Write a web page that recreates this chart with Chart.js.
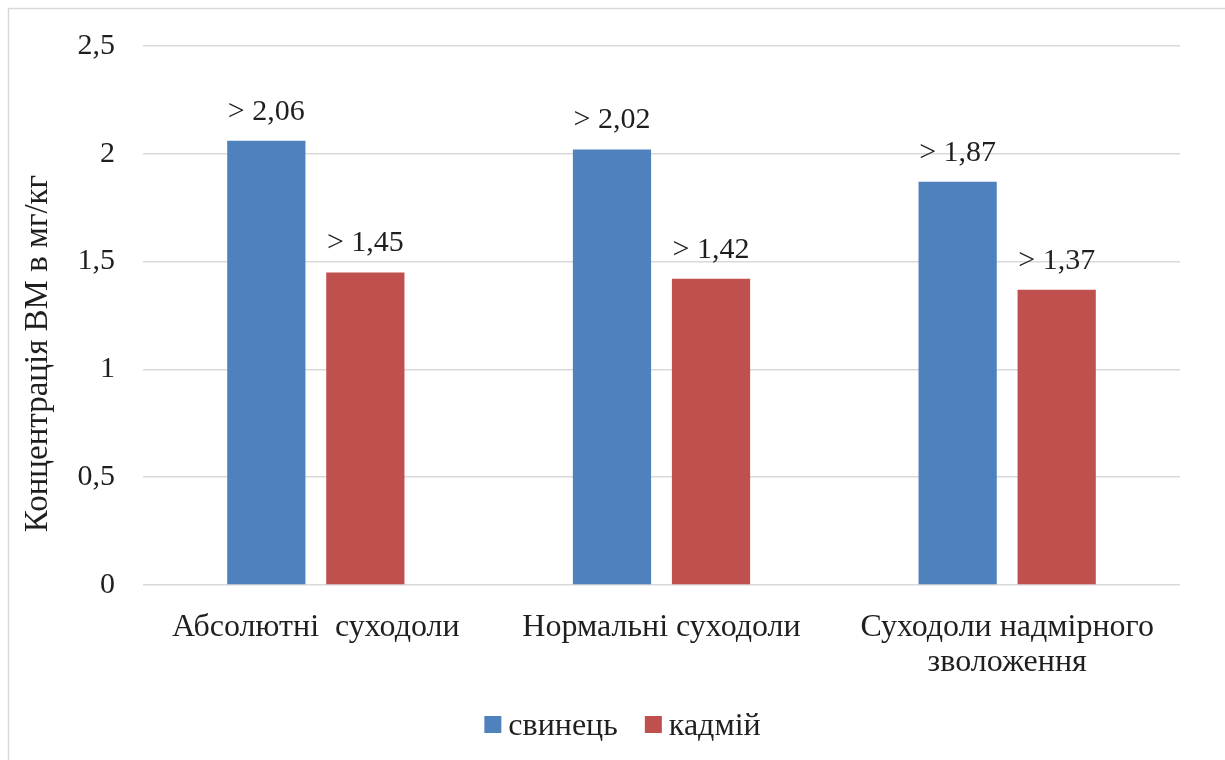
<!DOCTYPE html>
<html lang="uk">
<head>
<meta charset="utf-8">
<title>Концентрація ВМ</title>
<script src="https://cdn.jsdelivr.net/npm/chart.js@4"></script>
<style>
  html, body { margin: 0; padding: 0; background: #fff; }
  #wrap { position: absolute; left: 0; top: 0; width: 1225px; height: 760px; }
</style>
</head>
<body>
<div id="wrap"><canvas id="chart-vm" width="1225" height="760"></canvas></div>
<script>
const categories = [
  'Абсолютні  суходоли',
  'Нормальні суходоли',
  ['Суходоли надмірного', 'зволоження'],
];
const svynets = [2.06, 2.02, 1.87];
const kadmii = [1.45, 1.42, 1.37];
const yTicks = [0, 0.5, 1, 1.5, 2, 2.5];
const yTitle = 'Концентрація ВМ в мг/кг';

const serif = '"Liberation Serif", "Times New Roman", serif';
const textColor = '#1f1f1f';
const gridColor = '#d9d9d9';

const comma = v => String(v).replace('.', ',');

// рамка навколо діаграми
const frame = {
  id: 'frame',
  beforeDraw(chart) {
    const ctx = chart.ctx;
    ctx.save();
    ctx.strokeStyle = gridColor;
    ctx.lineWidth = 1.5;
    ctx.strokeRect(8.5, 8.5, chart.width + 20, chart.height + 20);
    ctx.restore();
  },
};

// підписи значень над стовпцями
const valueLabels = {
  id: 'valueLabels',
  afterDatasetsDraw(chart) {
    const ctx = chart.ctx;
    ctx.save();
    ctx.font = '30px ' + serif;
    ctx.fillStyle = textColor;
    ctx.textAlign = 'center';
    ctx.textBaseline = 'alphabetic';
    chart.data.datasets.forEach((ds, i) => {
      chart.getDatasetMeta(i).data.forEach((bar, j) => {
        ctx.fillText('> ' + comma(ds.data[j]), bar.x, bar.y - 21);
      });
    });
    ctx.restore();
  },
};

// назва осі Y (трохи нижче центру) і легенда внизу
const extras = {
  id: 'extras',
  afterDraw(chart) {
    const ctx = chart.ctx;
    const area = chart.chartArea;
    ctx.save();
    ctx.fillStyle = textColor;

    ctx.font = '33px ' + serif;
    ctx.translate(38, (area.top + area.bottom) / 2 + 38);
    ctx.rotate(-Math.PI / 2);
    ctx.textAlign = 'center';
    ctx.textBaseline = 'middle';
    ctx.fillText(yTitle, 0, 0);
    ctx.setTransform(1, 0, 0, 1, 0, 0);

    ctx.font = '32px ' + serif;
    ctx.textAlign = 'left';
    ctx.textBaseline = 'alphabetic';
    const items = chart.data.datasets.map(ds => ({
      text: ds.label,
      color: ds.backgroundColor,
      w: ctx.measureText(ds.label).width,
    }));
    const box = 17, gap = 7, between = 27;
    const total = items.reduce((s, it) => s + box + gap + it.w, 0) + between * (items.length - 1);
    let x = chart.width / 2 + 10 - total / 2;
    items.forEach(it => {
      ctx.fillStyle = it.color;
      ctx.fillRect(x, 716, box, box);
      ctx.fillStyle = textColor;
      ctx.fillText(it.text, x + box + gap, 735);
      x += box + gap + it.w + between;
    });
    ctx.restore();
  },
};

new Chart(document.getElementById('chart-vm'), {
  type: 'bar',
  data: {
    labels: categories,
    datasets: [
      {
        label: 'свинець',
        data: svynets,
        backgroundColor: '#4f81bd',
        categoryPercentage: 0.573,
        barPercentage: 0.79,
      },
      {
        label: 'кадмій',
        data: kadmii,
        backgroundColor: '#c0504d',
        categoryPercentage: 0.573,
        barPercentage: 0.79,
      },
    ],
  },
  plugins: [frame, valueLabels, extras],
  options: {
    responsive: false,
    animation: false,
    layout: {
      padding: { left: 10, right: 45, top: 36, bottom: 60 },
    },
    scales: {
      x: {
        grid: { display: false },
        border: { display: false },
        ticks: {
          color: textColor,
          padding: 17,
          font: { family: serif, size: 32, lineHeight: 1.1 },
          maxRotation: 0,
          autoSkip: false,
        },
        afterFit: scale => { scale.height = 115; },
      },
      y: {
        min: 0,
        max: 2.5,
        afterBuildTicks: scale => {
          scale.ticks = yTicks.map(v => ({ value: v }));
        },
        grid: { color: gridColor, lineWidth: 1.5, drawTicks: false },
        border: { display: false },
        ticks: {
          color: textColor,
          padding: 28,
          font: { family: serif, size: 30 },
          callback: v => comma(v),
        },
        afterFit: scale => { scale.width = 133; },
      },
    },
    plugins: {
      legend: { display: false },
      tooltip: { enabled: false },
    },
  },
});
</script>
</body>
</html>
